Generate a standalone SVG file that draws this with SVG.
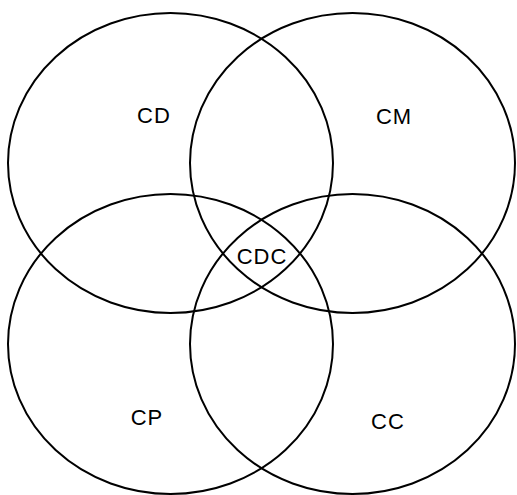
<svg xmlns="http://www.w3.org/2000/svg" width="517" height="495" viewBox="0 0 517 495">
  <style>
    .set { fill: none; stroke: #000; stroke-width: 2; }
    .lbl { font-family: "Liberation Sans", "DejaVu Sans", sans-serif; font-size: 22px; letter-spacing: 1px; fill: #000; text-anchor: middle; }
  </style>
  <rect width="517" height="495" fill="#fff"/>
  <g id="CD">
    <ellipse class="set" cx="170.5" cy="163" rx="162.5" ry="150"/>
    <text class="lbl" x="154" y="123">CD</text>
  </g>
  <g id="CM">
    <ellipse class="set" cx="352.5" cy="163" rx="162.5" ry="150"/>
    <text class="lbl" x="394" y="124">CM</text>
  </g>
  <g id="CP">
    <ellipse class="set" cx="170.5" cy="344" rx="162.5" ry="150"/>
    <text class="lbl" x="147" y="425">CP</text>
  </g>
  <g id="CC">
    <ellipse class="set" cx="352.5" cy="344" rx="162.5" ry="150"/>
    <text class="lbl" x="388" y="429">CC</text>
  </g>
  <g id="CDC">
    <text class="lbl" x="262" y="264">CDC</text>
  </g>
  <g id="connectors"/>
</svg>
